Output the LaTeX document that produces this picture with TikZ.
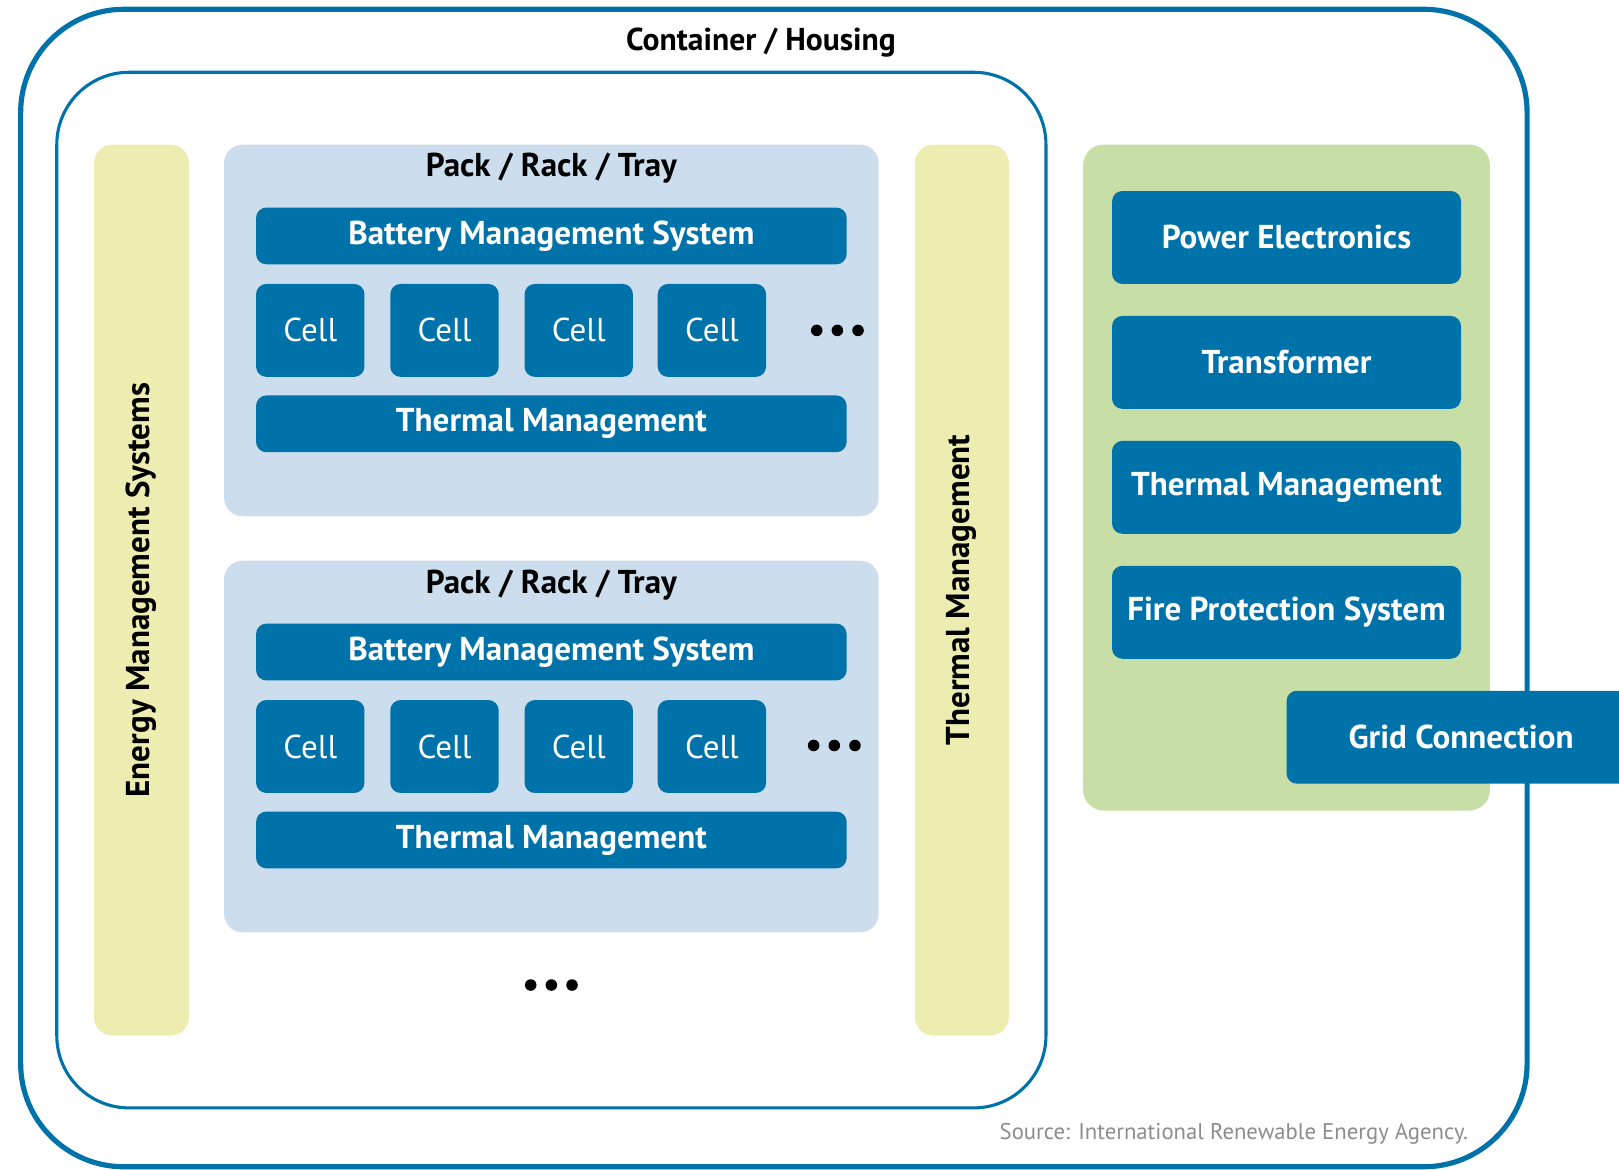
\documentclass[tikz,border=0pt]{standalone}
\usepackage{fontspec}
\setmainfont{PT Sans}
\usetikzlibrary{positioning, calc}
\definecolor{essblue}{RGB}{0,114,170}
\definecolor{packblue}{RGB}{204,222,237}
\definecolor{baryellow}{RGB}{238,237,177}
\definecolor{panelgreen}{RGB}{199,223,167}
\definecolor{srcgray}{RGB}{140,140,140}

\begin{document}
\begin{tikzpicture}[x=0.5pt, y=-0.5pt,
    bluebox/.style={fill=essblue, rounded corners=5pt, text=white, font=\bfseries\fontsize{16}{18}\selectfont, inner sep=0pt},
    wideblock/.style={bluebox, minimum width=286pt, minimum height=27.5pt},
    cellbox/.style={fill=essblue, rounded corners=5pt, text=white, font=\fontsize{16}{18}\selectfont, minimum width=52.5pt, minimum height=45pt, inner sep=0pt},
    sidebox/.style={bluebox, minimum width=169pt, minimum height=45pt},
    packbox/.style={fill=packblue, rounded corners=9pt, minimum width=317pt, minimum height=180pt, inner sep=0pt},
    sidebar/.style={fill=baryellow, rounded corners=9pt, rotate=90, minimum height=46pt, minimum width=431.5pt, inner sep=0pt, font=\bfseries\fontsize{16}{18}\selectfont},
    heading/.style={font=\bfseries\fontsize{16}{18}\selectfont},
    dot/.style={fill=black}]
  \useasboundingbox (0,0) rectangle (1568,1133);
  \draw[essblue, line width=2.5pt, rounded corners=50pt] (20,9) rectangle (1479,1130);
  \node[heading, font=\bfseries\fontsize{15.3}{18}\selectfont] (container) at (737,41) {Container / Housing};
  \draw[essblue, line width=1.5pt, rounded corners=35pt] (55,70) rectangle (1013,1073);
  \node[sidebar] (ems) at (137,571.5) {Energy Management Systems};
  \node[sidebar, minimum height=45.5pt] (tmbar) at (931.5,571.5) {Thermal Management};
  \node[packbox] (pack1) at (534,320) {};
  \node[heading] (title1) at (534,163) {Pack / Rack / Tray};
  \node[wideblock] (bms1) at (534,228.5) {Battery Management System};
  \foreach \i/\x in {1/300.5, 2/430.5, 3/560.5, 4/689.5}
    \node[cellbox] (cellA\i) at (\x,320) {Cell};
  \node[wideblock] (therm1) at (534,410.5) {Thermal Management};
  \foreach \x in {791, 811, 831}
    \fill[dot] (\x,320) circle (2.8pt);
  \node[packbox] (pack2) at (534,723) {};
  \node[heading] (title2) at (534,567) {Pack / Rack / Tray};
  \node[wideblock] (bms2) at (534,631.5) {Battery Management System};
  \foreach \i/\x in {1/300.5, 2/430.5, 3/560.5, 4/689.5}
    \node[cellbox] (cellB\i) at (\x,723) {Cell};
  \node[wideblock] (therm2) at (534,813.5) {Thermal Management};
  \foreach \x in {788, 808, 828}
    \fill[dot] (\x,722) circle (2.8pt);
  \foreach \x in {514, 534, 554}
    \fill[dot] (\x,954) circle (2.8pt);
  \fill[panelgreen, rounded corners=10pt] (1049,140) rectangle (1443,785);
  \node[sidebox] (power) at (1246,230) {Power Electronics};
  \node[sidebox] (trafo) at (1246,351) {Transformer};
  \node[sidebox] (therm3) at (1246,472) {Thermal Management};
  \node[sidebox] (fire) at (1246,593) {Fire Protection System};
  \node[sidebox] (grid) at (1415,714) {Grid Connection};
  \node[anchor=east, inner sep=0pt, text=srcgray, font=\fontsize{11}{13}\selectfont] (source) at (1422,1098) {Source: International Renewable Energy Agency.};
\end{tikzpicture}
\end{document}
